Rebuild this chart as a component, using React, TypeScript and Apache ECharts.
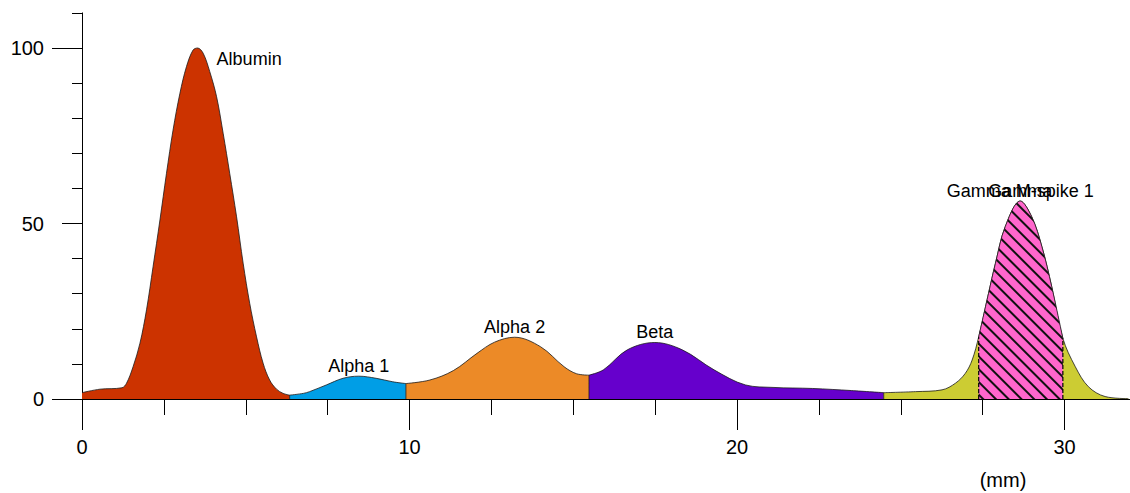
import React, { useEffect, useRef } from 'react';
import * as echarts from 'echarts';

// Densitometry curve: position (mm) and relative intensity
const curveX = [
  0, 0.55, 1.22, 1.36, 1.56, 1.77, 1.97, 2.17, 2.38, 2.58, 2.78, 2.99, 3.19, 3.39, 3.53,
  3.7, 3.9, 4.11, 4.31, 4.51, 4.72, 4.92, 5.12, 5.33, 5.53, 5.73, 5.94, 6.14, 6.34,
  6.76, 6.95, 7.46, 7.97, 8.45, 8.98, 9.49, 9.89,
  10.62, 11.34, 12.06, 12.6, 13.21, 14.0, 14.72, 15.1, 15.48,
  15.92, 16.65, 17.49, 18.33, 19.3, 20.26, 21.1, 22.31, 23.5, 24.48,
  25.45, 26.26, 26.67, 26.97, 27.18, 27.38, 27.68, 27.89, 28.19, 28.65, 29.0, 29.31, 29.61, 29.95,
  30.33, 30.73, 31.24, 31.95,
];
const curveY = [
  1.8, 2.8, 3.2, 4.5, 9.2, 15.9, 25.4, 37.7, 51, 64.3, 76.6, 87.1, 94.7, 99.4, 100,
  98.5, 93.3, 86.1, 75.7, 64.3, 51.9, 38.7, 27.3, 17.7, 10.2, 5.4, 2.8, 1.6, 1.1,
  1.6, 2.1, 4.0, 5.9, 6.5, 5.9, 4.9, 4.4,
  5.4, 8.1, 13, 16.2, 17.6, 14.9, 9.2, 7.2, 6.8,
  8.3, 14, 16.1, 14, 8.3, 4.0, 3.3, 3.0, 2.4, 1.8,
  2.1, 2.6, 4.5, 7.3, 11.1, 17.7, 30.1, 38.6, 49.1, 56.4, 51.9, 43.4, 32.0, 17.3,
  9.2, 3.5, 0.7, 0.1,
];

const fractionNames = ['Albumin', 'Alpha 1', 'Alpha 2', 'Beta', 'Gamma'];
const fractionBounds = [0, 6.34, 9.89, 15.48, 24.48, 31.95];
const spikeName = 'Gamma M-spike 1';
const spikeBounds = [27.38, 29.95];

const xMajorTicks = [0, 10, 20, 30];
const xMinorTicks = [2.5, 5, 7.5, 12.5, 15, 17.5, 22.5, 25, 27.5];
const yLabelTicks = [0, 50, 100];
const yLongTicks = [0, 100];
const yMidTicks = [50];
const yMinorTicks = [10, 20, 30, 40, 60, 70, 80, 90, 110];

const fractionColors = ['#CC3300', '#009EE6', '#EC8A27', '#6600CC', '#CCCC33'];
const spikeColor = '#FF66CC';
const FONT = '"Liberation Sans", Arial, Helvetica, sans-serif';

function pointsIn(a: number, b: number): number[][] {
  const out: number[][] = [];
  for (let i = 0; i < curveX.length; i++) {
    if (curveX[i] >= a - 1e-9 && curveX[i] <= b + 1e-9) out.push([curveX[i], curveY[i]]);
  }
  return out;
}
function peakOf(pts: number[][]): number[] {
  let best = pts[0];
  for (const p of pts) if (p[1] > best[1]) best = p;
  return best;
}
function yAt(x: number): number {
  const i = curveX.findIndex((v) => Math.abs(v - x) < 1e-9);
  return curveY[i];
}

export default function App() {
  const ref = useRef<HTMLDivElement>(null);
  useEffect(() => {
    document.body.style.margin = '0';
    if (!ref.current) return;
    const chart = echarts.init(ref.current, null, { renderer: 'svg' });

    const series: any[] = [];
    const labelData: any[] = [];
    fractionNames.forEach((name, i) => {
      const pts = pointsIn(fractionBounds[i], fractionBounds[i + 1]);
      series.push({
        name,
        type: 'line',
        xAxisIndex: 0,
        yAxisIndex: 0,
        data: pts,
        showSymbol: false,
        smooth: 0.35,
        lineStyle: { color: '#1a1a1a', width: 0.8 },
        areaStyle: { color: fractionColors[i], opacity: 1 },
        z: 2,
        silent: true,
      });
      const pk = peakOf(pts);
      labelData.push({ name, value: pk });
    });
    const spikePts = pointsIn(spikeBounds[0], spikeBounds[1]);
    const decal = {
      symbol: 'rect',
      symbolSize: 1,
      color: '#111',
      dashArrayX: [1, 0],
      dashArrayY: [1.7, 6.1],
      rotation: Math.PI / 4,
    };
    series.push({
      name: spikeName,
      type: 'line',
      xAxisIndex: 0,
      yAxisIndex: 0,
      data: spikePts,
      showSymbol: false,
      smooth: 0.35,
      lineStyle: { color: '#1a1a1a', width: 0.8, decal },
      itemStyle: { decal },
      areaStyle: { color: spikeColor, opacity: 1 },
      z: 3,
      silent: true,
    });
    labelData.push({ name: spikeName, value: peakOf(spikePts) });

    // boundary lines between fractions
    const innerBounds = fractionBounds.slice(1, -1);
    const bData: any[] = [];
    innerBounds.forEach((b) => {
      bData.push([b, 0], [b, yAt(b)], [b, '-']);
    });
    series.push({
      type: 'line',
      data: bData,
      showSymbol: false,
      connectNulls: false,
      lineStyle: { color: 'rgba(20,20,20,0.75)', width: 1 },
      z: 4,
      silent: true,
    });
    const sData: any[] = [];
    spikeBounds.forEach((b) => {
      sData.push([b, 0], [b, yAt(b)], [b, '-']);
    });
    series.push({
      type: 'line',
      data: sData,
      showSymbol: false,
      connectNulls: false,
      lineStyle: { color: '#000', width: 1.2, type: [4, 2] },
      z: 5,
      silent: true,
    });

    // peak labels
    labelData[0].label = { position: 'right', distance: 19, offset: [0, 10.5] };
    series.push({
      type: 'scatter',
      symbolSize: 0,
      data: labelData,
      z: 6,
      silent: true,
      label: {
        show: true,
        position: 'top',
        distance: 1,
        formatter: '{b}',
        color: '#000',
        textBorderWidth: 0,
        opacity: 1,
        fontSize: 18,
        fontFamily: FONT,
      },
    });

    const baseX = { type: 'value', min: 0, max: 32, gridIndex: 0, position: 'bottom', splitLine: { show: false } };
    const baseY = { type: 'value', min: 0, max: 110, gridIndex: 0, position: 'left', splitLine: { show: false } };

    chart.setOption({
      animation: false,
      grid: { left: 82, top: 12.9, width: 1049.6, height: 386.1, containLabel: false },
      xAxis: [
        {
          ...baseX,
          axisLine: { show: true, onZero: false, lineStyle: { color: '#000', width: 1 } },
          axisTick: { show: true, length: 31, customValues: xMajorTicks, lineStyle: { color: '#000', width: 1 } },
          axisLabel: { show: true, customValues: xMajorTicks, margin: 38, color: '#000', fontSize: 20, fontFamily: FONT },
        },
        {
          ...baseX,
          axisLine: { show: false, onZero: false },
          axisTick: { show: true, length: 16, customValues: xMinorTicks, lineStyle: { color: '#000', width: 1 } },
          axisLabel: { show: false },
        },
      ],
      yAxis: [
        {
          ...baseY,
          axisLine: { show: true, onZero: false, lineStyle: { color: '#000', width: 1 } },
          axisTick: { show: true, length: 30, customValues: yLongTicks, lineStyle: { color: '#000', width: 1 } },
          axisLabel: { show: true, customValues: yLabelTicks, margin: 38, color: '#000', fontSize: 20, fontFamily: FONT },
        },
        {
          ...baseY,
          axisLine: { show: false, onZero: false },
          axisTick: { show: true, length: 20, customValues: yMidTicks, lineStyle: { color: '#000', width: 1 } },
          axisLabel: { show: false },
        },
        {
          ...baseY,
          axisLine: { show: false, onZero: false },
          axisTick: { show: true, length: 10, customValues: yMinorTicks, lineStyle: { color: '#000', width: 1 } },
          axisLabel: { show: false },
        },
      ],
      graphic: [
        {
          type: 'text',
          x: 1003,
          y: 480,
          style: { text: '(mm)', fill: '#000', font: `20px ${FONT}`, textAlign: 'center', textVerticalAlign: 'middle' },
        },
      ],
      series,
    });
    return () => chart.dispose();
  }, []);
  return <div ref={ref} style={{ width: 1130, height: 493 }} />;
}
